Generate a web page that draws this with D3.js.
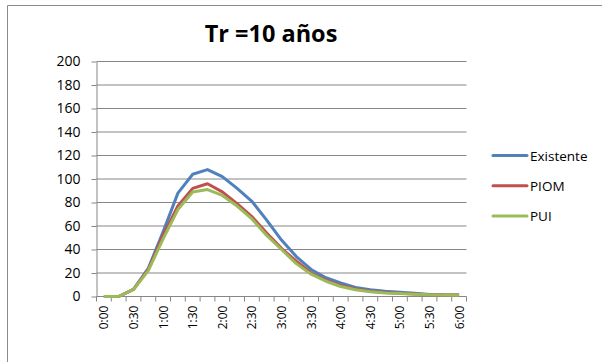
<!DOCTYPE html>
<html>
<head>
<meta charset="utf-8">
<script src="https://cdn.jsdelivr.net/npm/d3@7"></script>
<style>
  body { margin: 0; background: #fff; }
  svg { display: block; font-family: 'Liberation Sans', Arial, sans-serif; }
</style>
</head>
<body>
<svg id="main"></svg>
<script>
const times = ['0:00', '0:15', '0:30', '0:45', '1:00', '1:15', '1:30', '1:45', '2:00', '2:15',
  '2:30', '2:45', '3:00', '3:15', '3:30', '3:45', '4:00', '4:15', '4:30', '4:45',
  '5:00', '5:15', '5:30', '5:45', '6:00'];
const existente = [0, 0, 6, 24, 55, 88, 104, 108, 102, 92, 81, 65, 48, 34, 23, 16, 11.5, 7.7, 5.7, 4.5, 3.7, 2.8, 1.8, 1.4, 1.3];
const piom = [0, 0, 6, 23, 52, 77, 92, 96, 89, 79, 68, 54, 41, 30, 20, 14, 9.5, 6.5, 4.5, 3.4, 2.7, 2.1, 1.5, 1.3, 1.2];
const pui = [0, 0, 6, 22, 49, 74, 89, 91, 86, 77, 66, 52, 40, 28, 19, 13, 8.5, 5.7, 4, 3, 2.5, 2, 1.4, 1.2, 1.1];
const yTicks = [0, 20, 40, 60, 80, 100, 120, 140, 160, 180, 200];
const series = [
  { name: 'Existente', values: existente, color: '#4f81bd' },
  { name: 'PIOM', values: piom, color: '#c0504d' },
  { name: 'PUI', values: pui, color: '#9bbb59' }
];

let width = 602,
  height = 362;

let svg = d3.select('#main')
  .attr('width', width)
  .attr('height', height);

// chart frame (cut off at right and bottom)
svg.append('path')
  .attr('d', `M7.5,${height} V5.5 H${width}`)
  .attr('fill', 'none')
  .attr('stroke', '#8c8c8c')
  .attr('stroke-width', 1);

let x = d3.scaleBand()
  .domain(times)
  .range([96.5, 466.5]);

let y = d3.scaleLinear()
  .domain([0, 200])
  .range([296.5, 61.5]);

// gridlines
svg.append('g')
  .selectAll('line')
  .data(yTicks.slice(1))
  .enter()
  .append('line')
  .attr('x1', x.range()[0])
  .attr('x2', x.range()[1])
  .attr('y1', d => y(d))
  .attr('y2', d => y(d))
  .attr('stroke', '#868686')
  .attr('stroke-width', 1);

// y axis
let yAxis = svg.append('g')
  .attr('transform', `translate(${x.range()[0]},0)`)
  .call(d3.axisLeft(y).tickValues(yTicks).tickSize(5).tickSizeOuter(0).tickPadding(11));
yAxis.select('.domain').attr('stroke', '#868686');
yAxis.selectAll('line').attr('stroke', '#868686');
yAxis.selectAll('text')
  .attr('font-size', '14px')
  .attr('font-family', "'Open Sans', sans-serif")
  .attr('fill', '#000');

// x axis: ticks at category boundaries, labels every 30 min
let xg = svg.append('g');
xg.append('line')
  .attr('x1', x.range()[0])
  .attr('x2', x.range()[1])
  .attr('y1', y(0))
  .attr('y2', y(0))
  .attr('stroke', '#868686');
xg.selectAll('.xtick')
  .data(times.concat(['end']))
  .enter()
  .append('line')
  .attr('class', 'xtick')
  .attr('x1', (d, i) => x.range()[0] + i * x.bandwidth())
  .attr('x2', (d, i) => x.range()[0] + i * x.bandwidth())
  .attr('y1', y(0))
  .attr('y2', y(0) + 5)
  .attr('stroke', '#868686');
xg.selectAll('.xlabel')
  .data(times.filter((d, i) => i % 2 === 0))
  .enter()
  .append('text')
  .attr('class', 'xlabel')
  .text(d => d)
  .attr('transform', d => `translate(${x(d) + x.bandwidth() / 2 + 4.5},${y(0) + 9}) rotate(-90)`)
  .attr('text-anchor', 'end')
  .attr('font-size', '12px')
  .attr('font-family', "'Open Sans', sans-serif")
  .attr('fill', '#000');

// lines
let line = d3.line()
  .x((d, i) => x(times[i]) + x.bandwidth() / 2)
  .y(d => y(d));

svg.selectAll('.serie')
  .data(series)
  .enter()
  .append('path')
  .attr('class', 'serie')
  .attr('d', d => line(d.values))
  .attr('fill', 'none')
  .attr('stroke', d => d.color)
  .attr('stroke-width', 3)
  .attr('stroke-linejoin', 'round');

// legend
let legend = svg.selectAll('.legend')
  .data(series)
  .enter()
  .append('g')
  .attr('class', 'legend')
  .attr('transform', (d, i) => `translate(493, ${155.5 + i * 30.3})`);
legend.append('line')
  .attr('x1', 0)
  .attr('x2', 34)
  .attr('stroke', d => d.color)
  .attr('stroke-width', 3)
  .attr('stroke-linecap', 'round');
legend.append('text')
  .text(d => d.name)
  .attr('x', 37)
  .attr('y', 5)
  .attr('font-size', '13.5px')
  .attr('font-family', "'Open Sans', sans-serif")
  .attr('fill', '#000');

// title
svg.append('text')
  .text('Tr =10 años')
  .attr('x', 271)
  .attr('y', 42)
  .attr('text-anchor', 'middle')
  .attr('font-size', '23.5px')
  .attr('font-weight', 'bold')
  .attr('font-family', "'Open Sans', sans-serif")
  .attr('fill', '#000');
</script>
</body>
</html>
